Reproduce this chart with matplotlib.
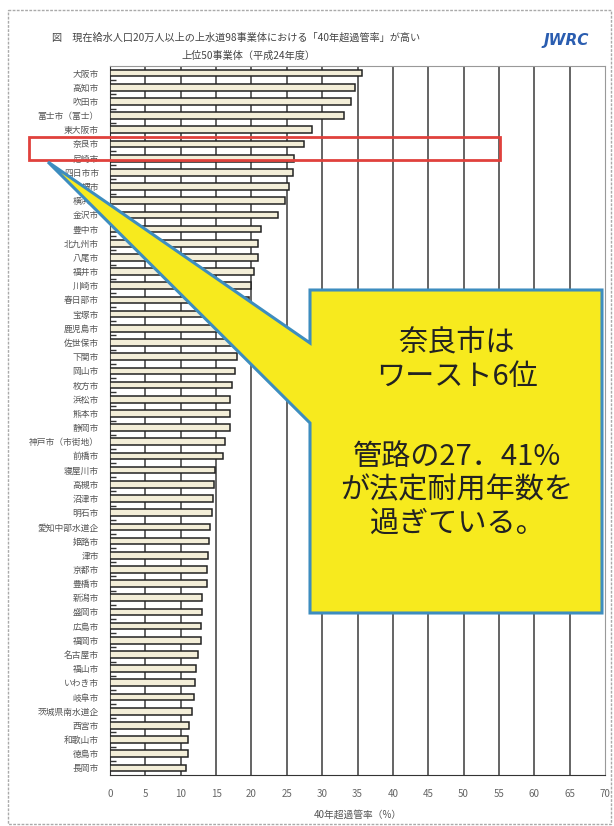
import matplotlib.pyplot as plt
from matplotlib.patches import Polygon, Rectangle

plt.rcParams['font.family'] = ['Noto Sans CJK JP', 'DejaVu Sans']

# 40年超過管率 上位50事業体（平成24年度）
cities = [
    "大阪市", "高知市", "吹田市", "富士市（富士）", "東大阪市",
    "奈良市", "尼崎市", "四日市市", "堺市", "横浜市",
    "金沢市", "豊中市", "北九州市", "八尾市", "福井市",
    "川崎市", "春日部市", "宝塚市", "鹿児島市", "佐世保市",
    "下関市", "岡山市", "枚方市", "浜松市", "熊本市",
    "静岡市", "神戸市（市街地）", "前橋市", "寝屋川市", "高槻市",
    "沼津市", "明石市", "愛知中部水道企", "姫路市", "津市",
    "京都市", "豊橋市", "新潟市", "盛岡市", "広島市",
    "福岡市", "名古屋市", "福山市", "いわき市", "岐阜市",
    "茨城県南水道企", "西宮市", "和歌山市", "徳島市", "長岡市",
]
rates = [
    35.6, 34.6, 34.1, 33.1, 28.6,
    27.41, 26.0, 25.9, 25.3, 24.8,
    23.7, 21.4, 20.9, 20.9, 20.4,
    20.0, 19.6, 19.3, 19.0, 18.5,
    17.9, 17.7, 17.2, 17.0, 17.0,
    16.9, 16.3, 16.0, 14.8, 14.7,
    14.6, 14.4, 14.2, 14.0, 13.9,
    13.7, 13.7, 13.0, 13.0, 12.9,
    12.8, 12.5, 12.2, 12.0, 11.9,
    11.6, 11.2, 11.1, 11.0, 10.8,
]
xticks = list(range(0, 75, 5))

W, H = 614, 826
fig = plt.figure(figsize=(W / 100, H / 100), dpi=100)

ax = fig.add_axes([110 / W, 1 - 775 / H, 495 / W, (775 - 66) / H])
pos = list(range(len(cities)))
ax.barh(pos, rates, height=0.47, color="#f3eed8", edgecolor="#222222",
        linewidth=1.1, zorder=3)
ax.set_ylim(len(cities) - 0.5, -0.5)
ax.set_xlim(0, 70)
ax.set_xticks(xticks)
ax.set_xticklabels([str(t) for t in xticks], fontsize=7, color="#666666")
ax.set_yticks(pos)
ax.set_yticklabels(cities, fontsize=6.3, color="#555555")
ax.set_yticks([p + 0.5 for p in pos[:-1]], minor=True)
ax.tick_params(axis="y", which="major", length=0, pad=8)
ax.tick_params(axis="y", which="minor", length=4, direction="in",
               color="#333333", width=1)
ax.tick_params(axis="x", length=0, pad=10)
for x in xticks[1:-1]:
    ax.axvline(x, color="#3a3a3a", lw=1.1, zorder=1)
for s in ax.spines.values():
    s.set_color("#999999")
    s.set_linewidth(0.8)
ax.spines["left"].set_color("#333333")
ax.spines["bottom"].set_color("#333333")
ax.set_xlabel("40年超過管率（%）", fontsize=7, color="#555555", labelpad=8)

# 図全体に重ねる注記用の座標系（ピクセル）
ov = fig.add_axes([0, 0, 1, 1], zorder=10)
ov.set_xlim(0, W)
ov.set_ylim(H, 0)
ov.axis("off")
ov.patch.set_alpha(0)

ov.add_patch(Rectangle((8, 10), 603, 814, fill=False, ec="#aaaaaa",
                       lw=1, ls=(0, (2, 1))))

ov.text(236, 38, "図　現在給水人口20万人以上の上水道98事業体における「40年超過管率」が高い",
        ha="center", va="center", fontsize=7.3, color="#444444")
ov.text(248, 56, "上位50事業体（平成24年度）", ha="center", va="center",
        fontsize=7.3, color="#444444")
ov.text(566, 40, "JWRC", ha="center", va="center", fontsize=11,
        color="#2a5db0", fontweight="bold", fontstyle="italic",
        family="DejaVu Sans")

# 奈良市の行を囲む赤枠
ov.add_patch(Rectangle((29, 137), 471, 23, fill=False, ec="#e0413c", lw=2))

# 吹き出し
callout = Polygon([(310, 290), (602, 290), (602, 613), (310, 613),
                   (310, 423), (48, 162), (310, 343)],
                  closed=True, fc="#f7ea1e", ec="#3d8dbf", lw=2.2)
ov.add_patch(callout)
ov.text(457, 360, "奈良市は\nワースト6位", ha="center", va="center",
        fontsize=21, color="#222222", linespacing=1.2)
ov.text(457, 490, "管路の27．41%\nが法定耐用年数を\n過ぎている。",
        ha="center", va="center", fontsize=21, color="#222222",
        linespacing=1.15)

fig.savefig("out.png", dpi=100)
